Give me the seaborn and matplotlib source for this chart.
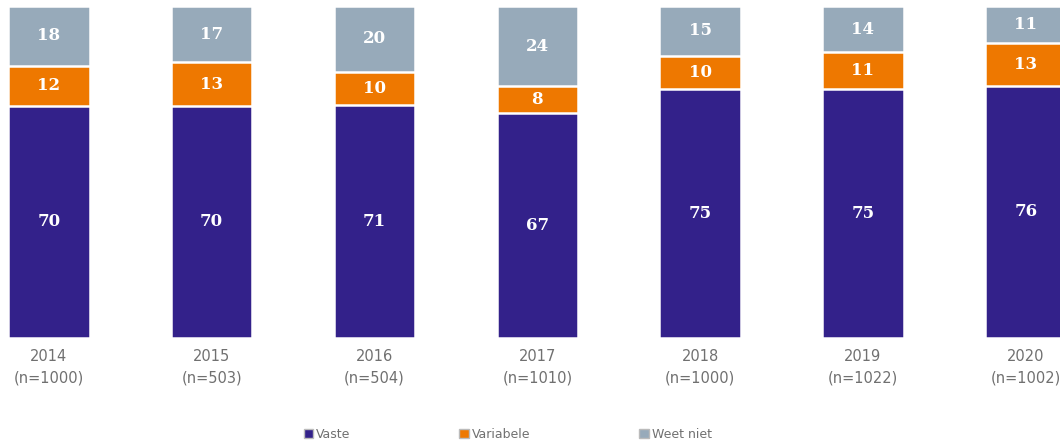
import matplotlib
matplotlib.use("Agg")
import matplotlib.pyplot as plt
from matplotlib.patches import Patch
import seaborn as sns
import pandas as pd

years = ["2014", "2015", "2016", "2017", "2018", "2019", "2020"]
n_values = [1000, 503, 504, 1010, 1000, 1022, 1002]
vaste = [70, 70, 71, 67, 75, 75, 76]
variabele = [12, 13, 10, 8, 10, 11, 13]
weet_niet = [18, 17, 20, 24, 15, 14, 11]

c_vaste = "#33218A"
c_var = "#EE7800"
c_weet = "#97AABA"

sns.set_theme(style="white")
plt.rcParams["font.family"] = ["DejaVu Sans"]

fig = plt.figure(figsize=(10.6, 4.43), dpi=100)
ax = fig.add_axes([0, (443 - 338) / 443, 1, (338 - 6) / 443])

df = pd.DataFrame({"year": years, "vaste": vaste, "variabele": variabele, "weet": weet_niet})
total = df["vaste"] + df["variabele"] + df["weet"]
# 100% stacked bars (rounded shares normalised to 100)
df["p_vaste"] = df["vaste"] / total * 100
df["p_mid"] = (df["vaste"] + df["variabele"]) / total * 100
df["p_top"] = total / total * 100

for col, color in [("p_top", c_weet), ("p_mid", c_var), ("p_vaste", c_vaste)]:
    sns.barplot(data=df, x="year", y=col, order=years, color=color, width=0.5,
                edgecolor="white", linewidth=1.8, saturation=1, ax=ax)

for i in range(len(years)):
    pv, pm = df["p_vaste"][i], df["p_mid"][i]
    for val, center in [(vaste[i], pv / 2), (variabele[i], (pv + pm) / 2),
                        (weet_niet[i], (pm + 100) / 2)]:
        ax.text(i, center, str(val), ha="center", va="center", color="white",
                fontsize=12, fontweight="bold", family="DejaVu Serif")

ax.set_xlim(-0.30, 6.21)
ax.set_ylim(0, 100)
ax.set_yticks([])
ax.set_xlabel("")
ax.set_ylabel("")
ax.set_xticks(range(len(years)))
ax.set_xticklabels([f"{y}\n(n={n})" for y, n in zip(years, n_values)],
                   color="#707070", fontsize=10.5, linespacing=1.5)
ax.tick_params(axis="x", length=0, pad=8)
for s in ax.spines.values():
    s.set_visible(False)

handles = [Patch(facecolor=c_vaste, edgecolor="#BBBBBB", label="Vaste"),
           Patch(facecolor=c_var, edgecolor="#BBBBBB", label="Variabele"),
           Patch(facecolor=c_weet, edgecolor="#BBBBBB", label="Weet niet")]
fig.legend(handles=handles, loc="center", bbox_to_anchor=(0.479, 0.02), ncol=3,
           frameon=False, fontsize=9, handlelength=0.75, handleheight=0.75,
           handletextpad=0.25, columnspacing=8.7, labelcolor="#707070")

fig.savefig("out.png", dpi=100)
